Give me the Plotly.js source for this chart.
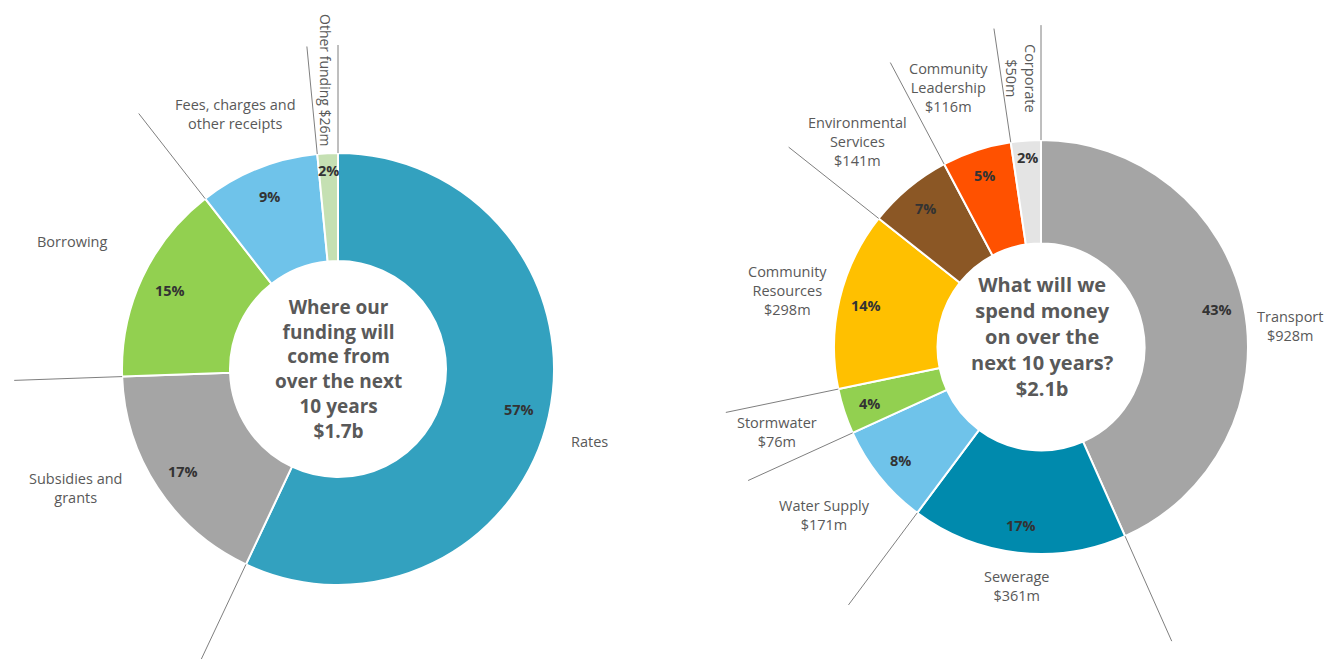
<!DOCTYPE html>
<html><head><meta charset="utf-8">
<script src="https://cdn.plot.ly/plotly-3.0.1.min.js"></script>
<style>body{margin:0;background:#fff}#chart{width:1335px;height:659px}</style>
</head><body><div id="chart"></div>
<script>
// ---- data ----
const fundingLabels = ['Rates', 'Subsidies and grants', 'Borrowing', 'Fees, charges and other receipts', 'Other funding'];
const fundingValues = [968, 296, 255, 153, 26]; // $m
const fundingPct = ['57%', '17%', '15%', '9%', '2%'];
const fundingNames = ['Rates', 'Subsidies and<br>grants', 'Borrowing', 'Fees, charges and<br>other receipts', 'Other funding $26m'];

const spendLabels = ['Transport', 'Sewerage', 'Water Supply', 'Stormwater', 'Community Resources', 'Environmental Services', 'Community Leadership', 'Corporate'];
const spendValues = [928, 361, 171, 76, 298, 141, 116, 50]; // $m
const spendPct = ['43%', '17%', '8%', '4%', '14%', '7%', '5%', '2%'];
const spendNames = ['Transport', 'Sewerage', 'Water Supply', 'Stormwater', 'Community<br>Resources', 'Environmental<br>Services', 'Community<br>Leadership', 'Corporate'];

// ---- styles / layout config ----
const fundingColors = ['#33a1bf', '#a5a5a5', '#92d050', '#6fc3ea', '#c5e0b3'];
const spendColors = ['#a5a5a5', '#008aad', '#6fc3ea', '#92d050', '#ffc000', '#8b5725', '#ff5100', '#e4e4e4'];

const W = 1335, H = 659;
const L = {cx: 338, cy: 369, R: 216, lineK: 1.5, pctK: 0.86};
const Rg = {cx: 1041, cy: 347, R: 207, lineK: 1.555, pctK: 0.87};
// outside label placement (pixels), rotation, font size
const fundingNamePos = [[589, 441, 0, 14.5], [75, 488, 0, 14.5], [72, 241, 0, 14.5], [235, 114, 0, 14.5], [325, 80, 90, 14]];
const spendNamePos = [[1290, 326, 0, 14.5], [1016, 586, 0, 14.5], [825, 515, 0, 14.5], [777, 432, 0, 14.5], [787, 291, 0, 14.5], [857, 141, 0, 14.5], [948, 88, 0, 14.5], [1021, 78, 90, 14.5]];

const px = x => x / W, py = y => 1 - y / H;
const labelColor = '#595959';
const FONT = 'Open Sans, Noto Sans, sans-serif';

function domainOf(g) {
  return {x: [px(g.cx - g.R), px(g.cx + g.R)], y: [py(g.cy + g.R), py(g.cy - g.R)]};
}
function pointAt(g, frac, k) {
  const a = frac * 2 * Math.PI;
  return [g.cx + k * g.R * Math.sin(a), g.cy - k * g.R * Math.cos(a)];
}

const shapes = [], annotations = [];
function decorate(g, values, pct, names, namePos) {
  const tot = values.reduce((a, b) => a + b, 0);
  let cum = 0;
  values.forEach((v, i) => {
    const p0 = pointAt(g, cum / tot, 1), p1 = pointAt(g, cum / tot, g.lineK);
    shapes.push({type: 'line', xref: 'paper', yref: 'paper', x0: px(p0[0]), y0: py(p0[1]), x1: px(p1[0]), y1: py(p1[1]),
      line: {color: '#7f7f7f', width: 1}});
    const k = v / tot < 0.03 ? 0.92 : g.pctK;
    const mid = pointAt(g, (cum + v / 2) / tot, k);
    annotations.push({xref: 'paper', yref: 'paper', x: px(mid[0]), y: py(mid[1]), text: '<b>' + pct[i] + '</b>',
      showarrow: false, xanchor: 'center', yanchor: 'middle', font: {family: FONT, size: 14.5, color: '#333333'}});
    const np = namePos[i];
    annotations.push({xref: 'paper', yref: 'paper', x: px(np[0]), y: py(np[1]), text: names[i], textangle: np[2],
      showarrow: false, xanchor: 'center', yanchor: 'middle', align: 'center', font: {family: FONT, size: np[3], color: labelColor}});
    cum += v;
  });
  return tot;
}

const spendNamesFull = spendNames.map((n, i) => n + '<br>$' + spendValues[i] + 'm');
const fTot = decorate(L, fundingValues, fundingPct, fundingNames, fundingNamePos);
const sTot = decorate(Rg, spendValues, spendPct, spendNamesFull, spendNamePos);

annotations.push({xref: 'paper', yref: 'paper', x: px(L.cx), y: py(L.cy), showarrow: false, xanchor: 'center', yanchor: 'middle',
  text: '<b>Where our<br>funding will<br>come from<br>over the next<br>10 years<br>$' + (fTot / 1000).toFixed(1) + 'b</b>',
  font: {family: FONT, size: 19, color: '#595959'}});
annotations.push({xref: 'paper', yref: 'paper', x: px(Rg.cx + 1), y: py(Rg.cy - 11), showarrow: false, xanchor: 'center', yanchor: 'middle',
  text: '<b>What will we<br>spend money<br>on over the<br>next 10 years?<br>$' + (sTot / 1000).toFixed(1) + 'b</b>',
  font: {family: FONT, size: 20, color: '#595959'}});

const traces = [
  {type: 'pie', labels: fundingLabels, values: fundingValues, hole: 0.5, sort: false, direction: 'clockwise', rotation: 0,
    domain: domainOf(L), textinfo: 'none', marker: {colors: fundingColors, line: {color: '#ffffff', width: 2}}, showlegend: false},
  {type: 'pie', labels: spendLabels, values: spendValues, hole: 0.5, sort: false, direction: 'clockwise', rotation: 0,
    domain: domainOf(Rg), textinfo: 'none', marker: {colors: spendColors, line: {color: '#ffffff', width: 2}}, showlegend: false}
];

Plotly.newPlot('chart', traces, {
  width: W, height: H, margin: {l: 0, r: 0, t: 0, b: 0}, paper_bgcolor: '#ffffff',
  shapes: shapes, annotations: annotations, showlegend: false
}, {displayModeBar: false, staticPlot: true});
</script></body></html>
